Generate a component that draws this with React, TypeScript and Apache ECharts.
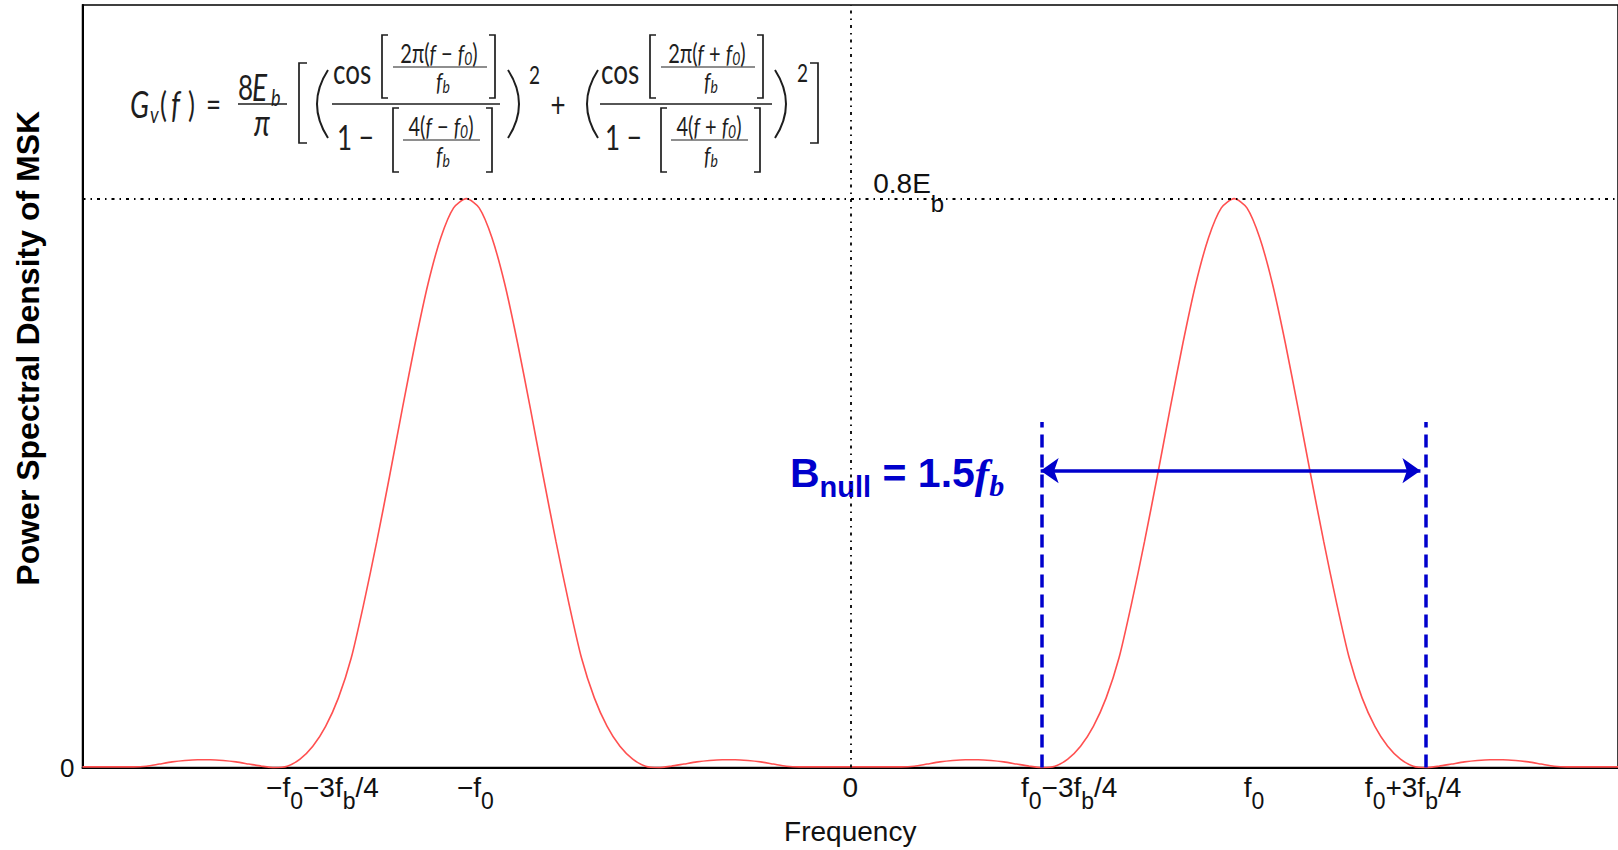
import React, { useEffect, useRef } from "react";
import * as echarts from "echarts";

// frequency grid (units of fb; f0 = 1.5 fb)
const freq = [
  -3.0, -2.95, -2.9, -2.85, -2.8, -2.75, -2.7, -2.65, -2.6, -2.55,
  -2.5, -2.45, -2.4, -2.35, -2.3, -2.25, -2.2, -2.15, -2.1, -2.05,
  -2.0, -1.95, -1.9, -1.85, -1.8, -1.75, -1.7, -1.65, -1.6, -1.55,
  -1.5, -1.45, -1.4, -1.35, -1.3, -1.25, -1.2, -1.15, -1.1, -1.05,
  -1.0, -0.95, -0.9, -0.85, -0.8, -0.75, -0.7, -0.65, -0.6, -0.55,
  -0.5, -0.45, -0.4, -0.35, -0.3, -0.25, -0.2, -0.15, -0.1, -0.05,
  0.0, 0.05, 0.1, 0.15, 0.2, 0.25, 0.3, 0.35, 0.4, 0.45,
  0.5, 0.55, 0.6, 0.65, 0.7, 0.75, 0.8, 0.85, 0.9, 0.95,
  1.0, 1.05, 1.1, 1.15, 1.2, 1.25, 1.3, 1.35, 1.4, 1.45,
  1.5, 1.55, 1.6, 1.65, 1.7, 1.75, 1.8, 1.85, 1.9, 1.95,
  2.0, 2.05, 2.1, 2.15, 2.2, 2.25, 2.3, 2.35, 2.4, 2.45,
  2.5, 2.55, 2.6, 2.65, 2.7, 2.75, 2.8, 2.85, 2.9, 2.95,
  3.0,
];

// power spectral density (units of Eb)
const psd = [
  0.001, 0.001, 0.001, 0.001, 0.001, 0.002, 0.005, 0.008, 0.010, 0.011,
  0.011, 0.010, 0.008, 0.005, 0.002, 0.000, 0.002, 0.012, 0.030, 0.058,
  0.098, 0.154, 0.232, 0.318, 0.410, 0.505, 0.597, 0.680, 0.745, 0.787,
  0.800, 0.787, 0.745, 0.680, 0.597, 0.505, 0.410, 0.318, 0.232, 0.154,
  0.098, 0.058, 0.030, 0.012, 0.002, 0.000, 0.002, 0.005, 0.008, 0.010,
  0.011, 0.011, 0.010, 0.008, 0.005, 0.002, 0.001, 0.001, 0.001, 0.001,
  0.001, 0.001, 0.001, 0.001, 0.001, 0.002, 0.005, 0.008, 0.010, 0.011,
  0.011, 0.010, 0.008, 0.005, 0.002, 0.000, 0.002, 0.012, 0.030, 0.058,
  0.098, 0.154, 0.232, 0.318, 0.410, 0.505, 0.597, 0.680, 0.745, 0.787,
  0.800, 0.787, 0.745, 0.680, 0.597, 0.505, 0.410, 0.318, 0.232, 0.154,
  0.098, 0.058, 0.030, 0.012, 0.002, 0.000, 0.002, 0.005, 0.008, 0.010,
  0.011, 0.011, 0.010, 0.008, 0.005, 0.002, 0.001, 0.001, 0.001, 0.001,
  0.001,
];

// x tick values and their labels (rich text: m = main, s = subscript)
const tickValues = [-2.25, -1.5, 0, 0.75, 1.5, 2.25];
const tickLabels = [
  "{p96| }{m|−f}{s|0}{m|−3f}{s|b}{m|/4}",
  "{p18| }{m|−f}{s|0}",
  "{m|0}",
  "{p54| }{m|f}{s|0}{m|−3f}{s|b}{m|/4}",
  "{p40| }{m|f}{s|0}",
  "{m|f}{s|0}{m|+3f}{s|b}{m|/4}{p26| }",
];

const yTickValues = [0];
const yTickLabels = ["0"];

const peakLevel = 0.8; // 0.8 Eb
const nullEdges = [0.75, 2.25]; // f0 - 3fb/4, f0 + 3fb/4
const nullMarkerTop = 0.486;
const arrowLevel = 0.4175;
const arrowTips = [0.744, 2.228];

const FF = '"Liberation Sans", Arial, Helvetica, sans-serif';
const FM = 'Lato, "Open Sans", "DejaVu Sans", sans-serif';
const INK = "#1e1e1e";
const BLUE = "#0000cc";
const SY = 1.3;
const M = 26;
const S = 20;

const FR: any = {
  n: { fontSize: M, fontFamily: FM, fill: INK },
  i: { fontSize: M, fontFamily: FM, fill: INK, fontStyle: "italic" },
  sn: { fontSize: S, fontFamily: FM, fill: INK },
  si: { fontSize: S, fontFamily: FM, fill: INK, fontStyle: "italic" },
  ss: { fontSize: 14, fontFamily: FM, fill: INK, fontStyle: "italic", padding: [8, 0, 0, 0] },
};

function tx(x: number, y: number, text: string, align = "left", size = M, italic = false): any {
  return {
    type: "text",
    x,
    y,
    scaleY: SY,
    silent: true,
    style: {
      text,
      rich: FR,
      align,
      verticalAlign: "middle",
      fill: INK,
      fontFamily: FM,
      fontSize: size,
      fontStyle: italic ? "italic" : "normal",
    },
  };
}
function bar(x1: number, x2: number, y: number, w = 1.3): any {
  return { type: "line", silent: true, shape: { x1, y1: y, x2, y2: y }, style: { stroke: INK, lineWidth: w } };
}
function bracket(xo: number, xi: number, y1: number, y2: number): any {
  return {
    type: "polyline",
    silent: true,
    shape: { points: [[xi, y1], [xo, y1], [xo, y2], [xi, y2]] },
    style: { stroke: INK, lineWidth: 1.7, fill: null },
  };
}
function paren(x: number, cpx: number, y1: number, y2: number): any {
  return {
    type: "bezierCurve",
    silent: true,
    shape: { x1: x, y1, x2: x, y2, cpx1: cpx, cpy1: (y1 + y2) / 2 },
    style: { stroke: INK, lineWidth: 2, fill: null },
  };
}

function formula(): any[] {
  const els: any[] = [
    tx(130, 104, "G", "left", 28, true),
    tx(150, 113, "v", "left", 18, true),
    tx(160, 104, "("),
    tx(171, 104, "f", "left", 28, true),
    tx(188, 104, ")"),
    tx(206, 104, "="),
    tx(238, 87, "8"),
    tx(252, 87, "E", "left", 28, true),
    tx(271, 96, "b", "left", 18, true),
    tx(262, 122, "π", "center", 28, true),
    bar(238, 287, 104),
    bracket(299, 307, 63, 143),
    bracket(818, 810, 63, 143),
  ];
  const term = (o: number, sign: string, x0: number, barEnd: number) => {
    els.push(
      tx(x0 + 1, 71, "cos"),
      bracket(o + 382, o + 388, 35, 98),
      bracket(o + 495, o + 489, 35, 98),
      tx(o + 439, 53, `{sn|2π(}{si|f}{sn| ${sign} }{si|f}{ss|0}{sn|)}`, "center"),
      bar(o + 393, o + 487, 67, 1.1),
      tx(o + 443, 81, "{si|f}{ss|b}", "center"),
      bar(x0, barEnd, 104),
      tx(x0 + 5, 137, "1 −"),
      bracket(o + 393, o + 399, 108, 172),
      bracket(o + 492, o + 486, 108, 172),
      tx(o + 441, 126, `{sn|4(}{si|f}{sn| ${sign} }{si|f}{ss|0}{sn|)}`, "center"),
      bar(o + 403, o + 480, 140, 1.1),
      tx(o + 443, 155, "{si|f}{ss|b}", "center")
    );
  };
  term(0, "−", 332, 500);
  term(268, "+", 600, 772);
  els.push(
    paren(328, 306, 70, 138),
    paren(508, 530, 70, 138),
    tx(529, 74, "2", "left", 19),
    tx(558, 104, "+", "center"),
    paren(598, 576, 70, 138),
    paren(775, 797, 70, 138),
    tx(797, 72, "2", "left", 19)
  );
  return els;
}

export default function App() {
  const ref = useRef<HTMLDivElement>(null);
  useEffect(() => {
    if (!ref.current) return;
    const chart = echarts.init(ref.current, null, { renderer: "svg" });
    const labelRich: any = {
      m: { fontSize: 28, fontFamily: FF, color: "#111", padding: [0, 0, 13, 0] },
      s: { fontSize: 23, fontFamily: FF, color: "#111", padding: [13, 0, 0, 0] },
      p96: { width: 96 },
      p18: { width: 18 },
      p54: { width: 54 },
      p40: { width: 40 },
      p26: { width: 26 },
    };
    const dashDot = { color: "#000", width: 1.8, type: [3, 5, 1.5, 5] as any };
    const blueDash = { color: BLUE, width: 3.5, type: [13, 7] as any };
    chart.setOption({
      animation: false,
      grid: {
        left: 82.5,
        right: -6.5,
        top: 5,
        bottom: 77,
        show: true,
        borderColor: "#000",
        borderWidth: 1.5,
        backgroundColor: "#fff",
      },
      xAxis: {
        type: "value",
        min: -3,
        max: 3,
        axisLine: { show: true, onZero: false, lineStyle: { color: "#000", width: 2 } },
        axisTick: { show: false },
        splitLine: { show: false },
        axisLabel: {
          customValues: tickValues,
          margin: 6,
          formatter: (v: number) => {
            const i = tickValues.findIndex((t) => Math.abs(t - v) < 1e-6);
            return i >= 0 ? tickLabels[i] : "";
          },
          rich: labelRich,
        },
        name: "Frequency",
        nameLocation: "middle",
        nameGap: 46,
        nameTextStyle: { fontSize: 28, fontFamily: FF, color: "#111" },
      },
      yAxis: {
        type: "value",
        min: 0,
        max: 1.0723,
        axisLine: { show: true, onZero: false, lineStyle: { color: "#000", width: 2 } },
        axisTick: { show: false },
        splitLine: { show: false },
        axisLabel: {
          customValues: yTickValues,
          margin: 8,
          fontSize: 26,
          fontFamily: FF,
          color: "#111",
          formatter: (v: number) => {
            const i = yTickValues.findIndex((t) => Math.abs(t - v) < 1e-6);
            return i >= 0 ? yTickLabels[i] : "";
          },
        },
        name: "Power Spectral Density of MSK",
        nameLocation: "middle",
        nameGap: 39,
        nameTextStyle: {
          fontSize: 32,
          fontWeight: "bold",
          fontFamily: FF,
          color: "#000",
          padding: [0, 0, 0, 76],
        },
      },
      series: [
        {
          type: "line",
          data: freq.map((f, i) => [f, psd[i]]),
          showSymbol: false,
          smooth: 0.25,
          lineStyle: { color: "#ff5050", width: 1.6 },
          silent: true,
          markLine: {
            silent: true,
            symbol: "none",
            symbolSize: [19, 18],
            label: { show: false },
            emphasis: { disabled: true },
            data: [
              { yAxis: peakLevel, lineStyle: dashDot },
              { xAxis: 0, lineStyle: dashDot },
              [
                { coord: [nullEdges[0], 0], lineStyle: blueDash },
                { coord: [nullEdges[0], nullMarkerTop] },
              ],
              [
                { coord: [nullEdges[1], 0], lineStyle: blueDash },
                { coord: [nullEdges[1], nullMarkerTop] },
              ],
              [
                { coord: [arrowTips[0], arrowLevel], symbol: "arrow", lineStyle: { color: BLUE, width: 3.5, type: "solid" } },
                { coord: [arrowTips[1], arrowLevel], symbol: "arrow" },
              ],
            ],
          },
        },
      ],
    });

    const pPeak = chart.convertToPixel({ gridIndex: 0 }, [0, peakLevel]) as number[];
    const pNull = chart.convertToPixel({ gridIndex: 0 }, [nullEdges[0], arrowLevel]) as number[];
    chart.setOption({
      graphic: [
        ...formula(),
        {
          type: "text",
          x: pPeak[0] + 23,
          y: pPeak[1] - 5.5,
          silent: true,
          style: {
            text: "{m|0.8E}{s|b}",
            align: "left",
            verticalAlign: "middle",
            rich: {
              m: { fontSize: 28, fontFamily: FF, fill: "#111", padding: [0, 0, 20, 0] },
              s: { fontSize: 24, fontFamily: FF, fill: "#111", padding: [20, 0, 0, 0] },
            },
          },
        },
        {
          type: "text",
          x: pNull[0] - 38,
          y: pNull[1] + 9.5,
          silent: true,
          style: {
            text: "{B|B}{bs|null}{B| = 1.5}{f|f}{fs|b}",
            align: "right",
            verticalAlign: "middle",
            rich: {
              B: { fontSize: 41, fontWeight: "bold", fontFamily: FF, fill: BLUE, padding: [0, 0, 14, 0] },
              bs: { fontSize: 29, fontWeight: "bold", fontFamily: FF, fill: BLUE, padding: [14, 0, 0, 0] },
              f: { fontSize: 43, fontWeight: "bold", fontStyle: "italic", fontFamily: '"Liberation Serif", serif', fill: BLUE, padding: [0, 0, 14, 0] },
              fs: { fontSize: 30, fontWeight: "bold", fontStyle: "italic", fontFamily: '"Liberation Serif", serif', fill: BLUE, padding: [10, 0, 0, 0] },
            },
          },
        },
      ],
    });
    return () => chart.dispose();
  }, []);
  return (
    <div
      ref={ref}
      style={{ position: "absolute", left: 0, top: 0, width: 1618, height: 850, background: "#fff" }}
    />
  );
}
